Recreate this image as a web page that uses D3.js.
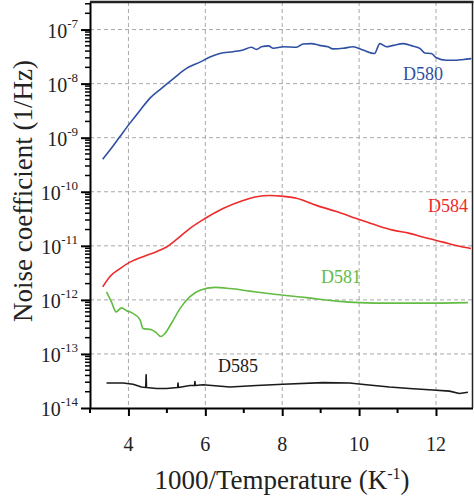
<!DOCTYPE html>
<html lang="en">
<head>
    <meta charset="UTF-8">
    <title>Noise coefficient vs 1000/T</title>
    <script src="https://d3js.org/d3.v7.min.js"></script>
    <style>
        body { margin: 0; background: #fff; }
        svg { display: block; }
        text { font-family: "Times New Roman", Times, "Liberation Serif", "Noto Serif", "DejaVu Serif", serif; }
        .grid line { stroke: #a8a8a8; stroke-width: 1; stroke-dasharray: 4,3; }
        .tick-label { font-size: 20px; fill: #222; }
        .axis-title { font-size: 27px; fill: #222; }
        .curve-label { font-size: 18px; }
    </style>
</head>
<body>
    <svg id="chart" width="474" height="499"></svg>
    <script>
        // x = 1000/T (K^-1), y = noise coefficient (1/Hz)
        const d580x = [3.33, 3.55, 3.78, 4.04, 4.30, 4.56, 4.86, 5.17, 5.51, 5.86, 6.12, 6.38, 6.72, 6.98, 7.20, 7.33, 7.46, 7.64, 7.77, 8.03, 8.37, 8.54, 8.76, 8.97, 9.19, 9.32, 9.58, 9.84, 10.10, 10.40, 10.54, 10.71, 10.89, 11.15, 11.41, 11.58, 11.71, 11.88, 12.01, 12.27, 12.53, 12.71, 12.92];
        const d580y = [4.0e-10, 6.3e-10, 1.05e-9, 1.86e-9, 3.2e-9, 5.4e-9, 8.2e-9, 1.24e-8, 1.91e-8, 2.5e-8, 3.1e-8, 3.6e-8, 3.9e-8, 4.2e-8, 4.7e-8, 4.3e-8, 4.8e-8, 5.0e-8, 4.5e-8, 4.8e-8, 4.7e-8, 5.4e-8, 5.5e-8, 5.1e-8, 4.8e-8, 4.4e-8, 4.5e-8, 4.8e-8, 4.2e-8, 3.6e-8, 5.5e-8, 4.8e-8, 5.1e-8, 5.5e-8, 4.9e-8, 4.5e-8, 3.7e-8, 3.6e-8, 3.0e-8, 2.7e-8, 2.7e-8, 2.8e-8, 2.9e-8];

        const d584x = [3.33, 3.52, 3.78, 4.04, 4.38, 4.73, 4.99, 5.34, 5.60, 5.99, 6.46, 6.98, 7.33, 7.68, 7.98, 8.37, 8.89, 9.41, 9.93, 10.45, 10.88, 11.31, 11.66, 12.18, 12.61, 12.91];
        const d584y = [1.74e-12, 2.7e-12, 3.8e-12, 5.0e-12, 6.3e-12, 7.8e-12, 9.5e-12, 1.48e-11, 2.1e-11, 3.2e-11, 4.9e-11, 6.9e-11, 8.1e-11, 8.5e-11, 8.3e-11, 7.6e-11, 5.6e-11, 4.3e-11, 3.2e-11, 2.4e-11, 1.95e-11, 1.7e-11, 1.45e-11, 1.17e-11, 9.8e-12, 8.9e-12];

        const d581x = [3.43, 3.56, 3.68, 3.82, 3.95, 4.08, 4.30, 4.38, 4.60, 4.73, 4.84, 4.95, 5.12, 5.34, 5.60, 5.86, 6.25, 6.64, 7.16, 7.85, 8.63, 9.41, 10.01, 10.79, 11.66, 12.83];
        const d581y = [1.41e-12, 9.1e-13, 6.0e-13, 7.1e-13, 6.3e-13, 5.8e-13, 4.3e-13, 2.95e-13, 2.8e-13, 2.45e-13, 2.1e-13, 2.4e-13, 3.7e-13, 6.9e-13, 1.15e-12, 1.51e-12, 1.70e-12, 1.62e-12, 1.45e-12, 1.26e-12, 1.10e-12, 9.5e-13, 8.9e-13, 8.7e-13, 8.7e-13, 8.9e-13];

        const d585x = [3.43, 3.86, 4.12, 4.34, 4.45, 4.46, 4.47, 4.73, 4.99, 5.28, 5.29, 5.30, 5.60, 5.72, 5.73, 5.74, 5.94, 6.64, 7.33, 8.02, 9.06, 9.75, 10.19, 10.79, 11.31, 11.92, 12.35, 12.61, 12.83];
        const d585y = [2.9e-14, 2.9e-14, 2.75e-14, 2.45e-14, 2.4e-14, 4.1e-14, 2.4e-14, 2.3e-14, 2.3e-14, 2.4e-14, 2.9e-14, 2.4e-14, 2.6e-14, 2.6e-14, 3.1e-14, 2.6e-14, 2.7e-14, 2.45e-14, 2.6e-14, 2.75e-14, 2.95e-14, 2.9e-14, 2.7e-14, 2.45e-14, 2.3e-14, 2.15e-14, 2.05e-14, 1.86e-14, 1.95e-14];

        const xTicks = [4, 6, 8, 10, 12];
        const xMinor = [3, 5, 7, 9, 11];
        const yExponents = [-14, -13, -12, -11, -10, -9, -8, -7];

        const series = [
            {name: "D580", xs: d580x, ys: d580y, color: "#2f4fa3", smooth: true, lx: 403, ly: 80},
            {name: "D584", xs: d584x, ys: d584y, color: "#ee2a2a", smooth: true, lx: 428, ly: 212},
            {name: "D581", xs: d581x, ys: d581y, color: "#62bb42", smooth: true, lx: 321, ly: 283},
            {name: "D585", xs: d585x, ys: d585y, color: "#1a1a1a", smooth: false, lx: 218, ly: 372}
        ];

        const plotLeft = 90, plotRight = 472.5, plotTop = 2, plotBottom = 408;

        const svg = d3.select("#chart");

        const x = d3.scaleLinear().domain([3, 12.95]).range([plotLeft, plotRight]);
        const y = d3.scaleLog().domain([1e-14, Math.pow(10, -6.49)]).range([plotBottom, plotTop]);

        // dashed grid
        const grid = svg.append("g").attr("class", "grid");
        grid.selectAll(".gx")
            .data(xTicks)
            .enter().append("line")
            .attr("x1", d => x(d)).attr("x2", d => x(d))
            .attr("y1", plotTop).attr("y2", plotBottom);
        grid.selectAll(".gy")
            .data(yExponents.filter(e => e > -14))
            .enter().append("line")
            .attr("x1", plotLeft).attr("x2", plotRight)
            .attr("y1", d => y(Math.pow(10, d))).attr("y2", d => y(Math.pow(10, d)));

        // curves
        series.forEach(s => {
            const pts = s.xs.map((v, i) => [v, s.ys[i]]);
            const line = d3.line()
                .x(d => x(d[0]))
                .y(d => y(d[1]))
                .curve(s.smooth ? d3.curveMonotoneX : d3.curveLinear);
            svg.append("path")
               .datum(pts)
               .attr("fill", "none")
               .attr("stroke", s.color)
               .attr("stroke-width", 1.6)
               .attr("stroke-linejoin", "round")
               .attr("d", line);
            svg.append("text")
               .attr("class", "curve-label")
               .attr("x", s.lx)
               .attr("y", s.ly)
               .attr("fill", s.color)
               .text(s.name);
        });

        // bottom axis with major + minor ticks
        const xAxis = svg.append("g").attr("transform", `translate(0,${plotBottom})`);
        xAxis.call(d3.axisBottom(x).tickValues(xTicks).tickSize(8).tickSizeOuter(0).tickFormat(""));
        xAxis.append("g").selectAll("line")
             .data(xMinor)
             .enter().append("line")
             .attr("x1", d => x(d)).attr("x2", d => x(d))
             .attr("y1", 0).attr("y2", 5)
             .attr("stroke", "#000").attr("stroke-width", 2);
        xAxis.selectAll("path, line").attr("stroke", "#000").attr("stroke-width", 2);
        svg.selectAll(".xlab")
           .data(xTicks)
           .enter().append("text")
           .attr("class", "tick-label")
           .attr("x", d => x(d))
           .attr("y", 451)
           .attr("text-anchor", "middle")
           .text(d => d);

        // left axis: decades + minor ticks
        const minorVals = [];
        yExponents.forEach(e => {
            for (let k = 2; k <= 9; k++) {
                const v = k * Math.pow(10, e);
                if (v <= y.domain()[1]) minorVals.push(v);
            }
        });
        const yAxis = svg.append("g").attr("transform", `translate(${plotLeft},0)`);
        yAxis.call(d3.axisLeft(y).tickValues(yExponents.map(e => Math.pow(10, e))).tickSize(9).tickSizeOuter(0).tickFormat(""));
        yAxis.append("g").selectAll("line")
             .data(minorVals)
             .enter().append("line")
             .attr("x1", 0).attr("x2", -5)
             .attr("y1", d => y(d)).attr("y2", d => y(d))
             .attr("stroke", "#000").attr("stroke-width", 1.5);
        yAxis.selectAll("path").attr("stroke", "#000").attr("stroke-width", 2);
        yAxis.selectAll(".tick line").attr("stroke", "#000").attr("stroke-width", 2);

        const ylab = svg.selectAll(".ylab")
           .data(yExponents)
           .enter().append("text")
           .attr("class", "tick-label")
           .attr("x", 78)
           .attr("y", d => y(Math.pow(10, d)) + 8)
           .attr("text-anchor", "end");
        ylab.append("tspan").text("10");
        ylab.append("tspan")
            .attr("dy", -10)
            .attr("font-size", 13)
            .text(d => String(d));

        // top and right frame
        svg.append("line")
           .attr("x1", plotLeft).attr("x2", plotRight + 1)
           .attr("y1", plotTop).attr("y2", plotTop)
           .attr("stroke", "#222").attr("stroke-width", 2.5);
        svg.append("line")
           .attr("x1", plotRight).attr("x2", plotRight)
           .attr("y1", plotTop).attr("y2", plotBottom)
           .attr("stroke", "#222").attr("stroke-width", 1.5);

        // axis titles
        const xt = svg.append("text")
           .attr("class", "axis-title")
           .attr("x", 282)
           .attr("y", 489)
           .attr("text-anchor", "middle");
        xt.append("tspan").text("1000/Temperature (K");
        xt.append("tspan").attr("dy", -10).attr("font-size", 16).text("-1");
        xt.append("tspan").attr("dy", 10).text(")");

        svg.append("text")
           .attr("class", "axis-title")
           .attr("transform", "translate(32,191) rotate(-90)")
           .attr("text-anchor", "middle")
           .text("Noise coefficient (1/Hz)");
    </script>
</body>
</html>
